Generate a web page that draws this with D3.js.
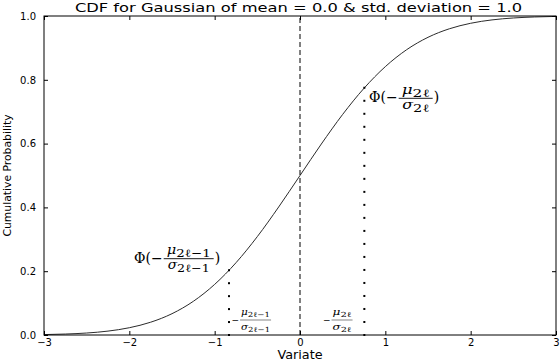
<!DOCTYPE html>
<html>
<head>
<meta charset="utf-8">
<title>Gaussian CDF</title>
<style>
body { margin: 0; background: #fff; }
svg text { font-family: "DejaVu Sans", sans-serif; fill: #000; }
svg text.math { font-family: "DejaVu Serif", serif; }
</style>
</head>
<body>
<svg id="chart" width="560" height="362"></svg>
<script src="https://d3js.org/d3.v7.min.js"></script>
<script>
// CDF values read at x = -3 .. 3, step 0.25
var variate = [-3, -2.75, -2.5, -2.25, -2, -1.75, -1.5, -1.25, -1, -0.75, -0.5, -0.25,
               0, 0.25, 0.5, 0.75, 1, 1.25, 1.5, 1.75, 2, 2.25, 2.5, 2.75, 3];
var cumProb = [0.0013, 0.0030, 0.0062, 0.0122, 0.0228, 0.0401, 0.0668, 0.1056, 0.1587, 0.2266, 0.3085, 0.4013,
               0.5, 0.5987, 0.6915, 0.7734, 0.8413, 0.8944, 0.9332, 0.9599, 0.9772, 0.9878, 0.9938, 0.9970, 0.9987];
var xTicks = [-3, -2, -1, 0, 1, 2, 3];
var yTicks = [0, 0.2, 0.4, 0.6, 0.8, 1.0];
// the two marked thresholds and their CDF heights
var markX = [-0.832, 0.754];
var markP = [0.203, 0.775];

var svg = d3.select("#chart");
var mLeft = 44, mRight = 556, mTop = 16, mBottom = 335;

var x = d3.scaleLinear().domain([-3, 3]).range([mLeft, mRight]);
var y = d3.scaleLinear().domain([0, 1]).range([mBottom, mTop]);

var fmtX = function(d) { return d < 0 ? "\u2212" + Math.abs(d) : String(d); };

// curve
var pts = variate.map(function(v, i) { return [v, cumProb[i]]; });
svg.append("path")
  .datum(pts)
  .attr("fill", "none")
  .attr("stroke", "#2b2b2b")
  .attr("stroke-width", 1)
  .attr("d", d3.line().x(function(d) { return x(d[0]); }).y(function(d) { return y(d[1]); }).curve(d3.curveMonotoneX));

// dashed mean line
svg.append("line")
  .attr("x1", x(0)).attr("x2", x(0))
  .attr("y1", y(0)).attr("y2", y(1))
  .attr("stroke", "#000").attr("stroke-width", 1)
  .attr("stroke-dasharray", "5,3");

// dotted drops
markX.forEach(function(mx, i) {
  var n = Math.round((y(0) - y(markP[i])) / 13);
  d3.range(n + 1).forEach(function(k) {
    svg.append("rect")
      .attr("x", x(mx) - 1).attr("y", y(0) - k * (y(0) - y(markP[i])) / n - 1)
      .attr("width", 2).attr("height", 2)
      .attr("fill", "#000");
  });
});

// frame
svg.append("rect")
  .attr("x", mLeft).attr("y", mTop)
  .attr("width", mRight - mLeft).attr("height", mBottom - mTop)
  .attr("fill", "none").attr("stroke", "#000").attr("stroke-width", 1);

// axes with inward ticks
var gx = svg.append("g").attr("transform", "translate(0," + mBottom + ")")
  .call(d3.axisBottom(x).tickValues(xTicks).tickSize(-4).tickPadding(4).tickFormat(fmtX));
var gxt = svg.append("g").attr("transform", "translate(0," + mTop + ")")
  .call(d3.axisTop(x).tickValues(xTicks).tickSize(-4).tickFormat(""));
var gy = svg.append("g").attr("transform", "translate(" + mLeft + ",0)")
  .call(d3.axisLeft(y).tickValues(yTicks).tickSize(-4).tickPadding(8).tickFormat(d3.format(".1f")));
var gyr = svg.append("g").attr("transform", "translate(" + mRight + ",0)")
  .call(d3.axisRight(y).tickValues(yTicks).tickSize(-4).tickFormat(""));
[gx, gxt, gy, gyr].forEach(function(g) {
  g.select(".domain").remove();
  g.selectAll("text").attr("font-family", "DejaVu Sans").attr("font-size", 10).attr("fill", "#000");
});

// titles
svg.append("text").attr("transform", "translate(298.5,11.7) scale(1,0.76)").attr("text-anchor", "middle")
  .attr("font-size", 16.3).text("CDF for Gaussian of mean = 0.0 & std. deviation = 1.0");
svg.append("text").attr("transform", "translate(300,359) scale(1,0.9)").attr("text-anchor", "middle")
  .attr("font-size", 12.8).text("Variate");
svg.append("text").attr("transform", "translate(10.7," + ((mTop + mBottom) / 2) + ") rotate(-90)")
  .attr("text-anchor", "middle").attr("font-size", 10.8).text("Cumulative Probability");

// math labels: prefix, fraction (symbol with subscript over symbol with subscript), closing paren
function subText(g, o, sym, sub, yy, width) {
  var t = g.append("text").attr("class", "math").attr("font-size", o.sym).attr("y", yy)
    .attr("fill", o.color);
  t.append("tspan").attr("font-style", "italic").text(sym);
  t.append("tspan").attr("font-size", o.sub).attr("dy", o.sub * 0.25).text(sub);
  t.attr("textLength", width).attr("lengthAdjust", "spacingAndGlyphs");
  return t;
}
function fracLabel(px, py, o, prefix, num, numSub, den, denSub, close) {
  var g = svg.append("g").attr("transform", "translate(" + px + "," + py + ")");
  var t = g.append("text").attr("class", "math").attr("font-size", o.size).attr("y", o.size * 0.29)
    .attr("fill", o.color).text(prefix);
  var w = t.node().getComputedTextLength() + 1;
  var fw = Math.max(o.numW, o.denW) + o.pad;
  subText(g, o, num, numSub, o.numY, o.numW).attr("x", w + (fw - o.numW) / 2);
  subText(g, o, den, denSub, o.denY, o.denW).attr("x", w + (fw - o.denW) / 2);
  g.append("line").attr("x1", w).attr("x2", w + fw).attr("y1", 0).attr("y2", 0)
    .attr("stroke", o.color).attr("stroke-width", o.size > 12 ? 0.9 : 0.6);
  if (close) g.append("text").attr("class", "math").attr("font-size", o.size).attr("y", o.size * 0.29)
    .attr("x", w + fw + 1).attr("fill", o.color).text(close);
}

var big = { size: 14, sym: 12, sub: 11, numY: -4.5, denY: 10.5, pad: 6, color: "#000" };
var small = { size: 9, sym: 8.5, sub: 7, numY: -5, denY: 10, pad: 2, color: "#333" };

fracLabel(134, 258.7, Object.assign({ numW: 44, denW: 42 }, big),
  "\u03a6(\u2212", "\u03bc", "2\u2113\u22121", "\u03c3", "2\u2113\u22121", ")");
fracLabel(369, 98.3, Object.assign({ numW: 28, denW: 27 }, big),
  "\u03a6(\u2212", "\u03bc", "2\u2113", "\u03c3", "2\u2113", ")");
fracLabel(231.5, 320, Object.assign({ numW: 29, denW: 29 }, small),
  "\u2212", "\u03bc", "2\u2113\u22121", "\u03c3", "2\u2113\u22121", "");
fracLabel(323, 320, Object.assign({ numW: 19, denW: 19 }, small),
  "\u2212", "\u03bc", "2\u2113", "\u03c3", "2\u2113", "");
</script>
</body>
</html>
